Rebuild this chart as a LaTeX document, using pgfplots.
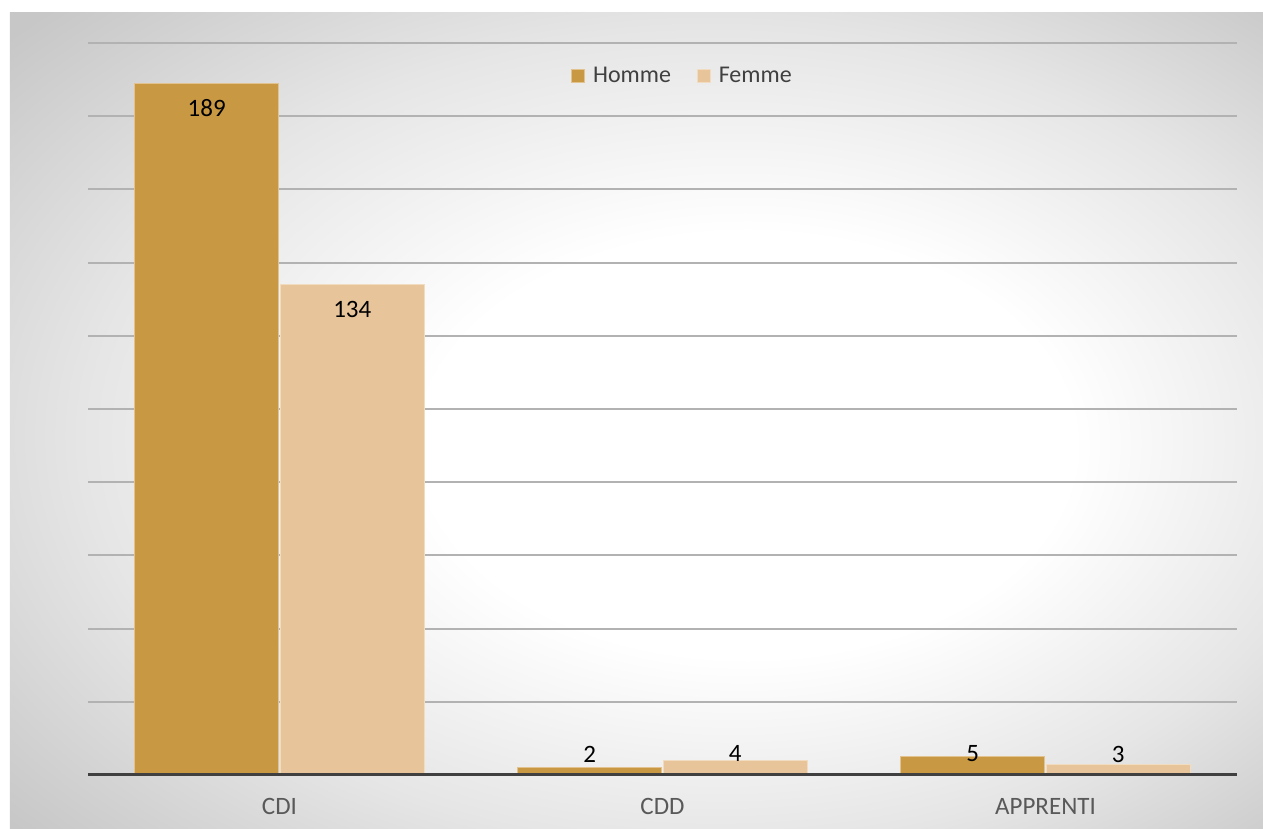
\documentclass[border=0pt]{standalone}
\usepackage{pgfplots}
\pgfplotsset{compat=1.18}
\usepackage{pgfplotstable}
\usepackage{fontspec}
\setmainfont{Carlito}
\definecolor{homme}{HTML}{C89842}
\definecolor{femme}{HTML}{E8C49A}
\definecolor{edgeh}{HTML}{E2C28E}
\definecolor{edgef}{HTML}{F2DCC0}
\pgfdeclareradialshading{bgshade}{\pgfpoint{6bp}{-2bp}}{color(0bp)=(white); color(13bp)=(white); color(25bp)=(black!10); color(36bp)=(black!22); color(50bp)=(black!22)}
\pgfplotstableread{
x y off
0 189 -12.5
1 2 6.85
2 5 1.35
}\homme
\pgfplotstableread{
x y off
0 134 -12.5
1 4 3.2
2 3 5
}\femme
\begin{document}
\begin{tikzpicture}
\useasboundingbox (-44pt,-27pt) rectangle (587.5pt,387.5pt);
\shade[shading=bgshade] (-39pt,-27pt) rectangle (587.5pt,381pt);
\begin{axis}[
  scale only axis,
  width=574.5pt, height=366pt,
  xmin=-0.5, xmax=2.5, ymin=0, ymax=200,
  ytick={20,40,...,200}, yticklabels={},
  ymajorgrids, grid style={draw=black!30, line width=1pt},
  major tick length=0pt,
  xtick={0,1,2}, xticklabels={CDI,CDD,APPRENTI},
  xticklabel style={text=black!65, font=\fontsize{12.5}{15}\selectfont, yshift=-8pt},
  axis line style={draw=none},
  /pgf/number format/assume math mode=true,
  ybar, bar width=0.376,
  nodes near coords,
  visualization depends on={\thisrow{off} \as \off},
  every node near coord/.append style={anchor=center, yshift=\off pt, font=\fontsize{12.5}{15}\selectfont, text=black},
  legend style={at={(0.52,0.955)}, anchor=center, draw=none, fill=none, legend columns=2, font=\fontsize{12}{14}\selectfont, text=black!75, /tikz/every even column/.append style={column sep=9pt}, nodes={inner xsep=4pt}},
  legend image code/.code={\fill[#1] (0pt,-3.2pt) rectangle (6.4pt,3.2pt);},
]
\addplot[fill=homme, draw=edgeh, line width=0.5pt, bar shift=-0.19] table[x=x,y=y] {\homme};
\addlegendentry{Homme}
\addplot[fill=femme, draw=edgef, line width=0.5pt, bar shift=0.19] table[x=x,y=y] {\femme};
\addlegendentry{Femme}
\end{axis}
\draw[black!75, line width=1.5pt] (0,0) -- (574.5pt,0);
\end{tikzpicture}
\end{document}
